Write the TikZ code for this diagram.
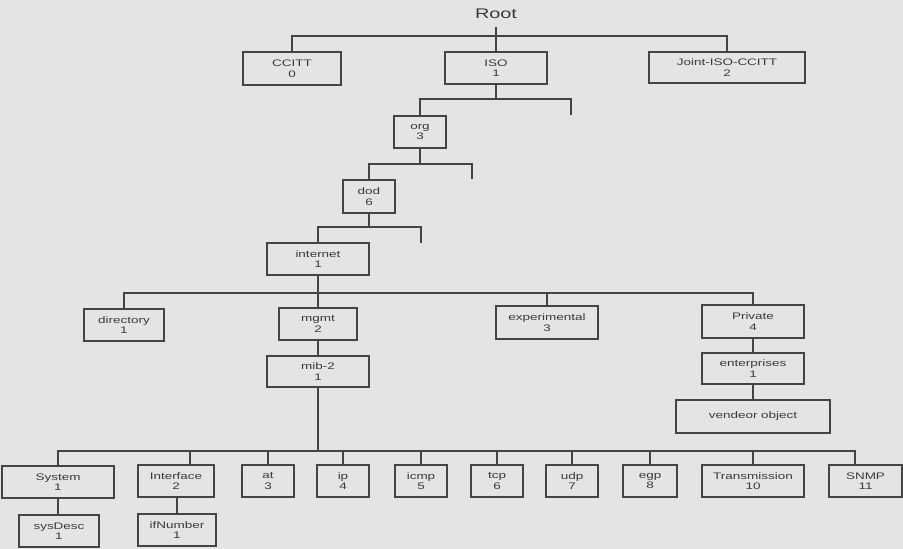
\documentclass[tikz,border=0pt]{standalone}
\usepackage{fontspec}
\setmainfont{Liberation Sans}
\newfontfamily\boxfont{Liberation Sans}[FakeStretch=1.42]
\definecolor{bgcol}{HTML}{E4E4E4}
\definecolor{linecol}{HTML}{444444}
\definecolor{txtcol}{HTML}{3A3A3A}
\begin{document}
\begin{tikzpicture}[x=1pt,y=-1pt,
  box/.style={draw=linecol, line width=1.3pt, rectangle, inner sep=0pt, align=center,
    font=\boxfont\fontsize{9.5}{10.5}\selectfont, text=txtcol},
  conn/.style={draw=linecol, line width=1.3pt}]
\fill[bgcol] (0,0) rectangle (903,549);
\useasboundingbox (0,0) rectangle (903,549);
% top
\node[font=\boxfont\fontsize{14}{15}\selectfont, text=txtcol, inner sep=1pt] (root) at (496,14) {Root};
\node[box, minimum width=98, minimum height=33] (ccitt) at (292,68.5) {CCITT\\0};
\node[box, minimum width=102, minimum height=32] (iso) at (496,68) {ISO\\1};
\node[box, minimum width=156, minimum height=31] (joint) at (727,67.5) {Joint-ISO-CCITT\\2};
\node[box, minimum width=52, minimum height=32] (org) at (420,132) {org\\3};
\node[box, minimum width=52, minimum height=33] (dod) at (369,196.5) {dod\\6};
\node[box, minimum width=102, minimum height=32] (internet) at (318,259) {internet\\1};
% internet children
\node[box, minimum width=80, minimum height=32] (directory) at (124,325) {directory\\1};
\node[box, minimum width=78, minimum height=32] (mgmt) at (318,324) {mgmt\\2};
\node[box, minimum width=102, minimum height=33] (experimental) at (547,322.5) {experimental\\3};
\node[box, minimum width=102, minimum height=33] (private) at (753,321.5) {Private\\4};
\node[box, minimum width=102, minimum height=31] (mib) at (318,371.5) {mib-2\\1};
\node[box, minimum width=102, minimum height=31] (enterprises) at (753,368.5) {enterprises\\1};
\node[box, minimum width=154, minimum height=33] (vendeor) at (753,416.5) {vendeor object};
% mib-2 children
\node[box, minimum width=112, minimum height=32] (system) at (58,482) {System\\1};
\node[box, minimum width=76, minimum height=32] (interface) at (176,481) {Interface\\2};
\node[box, minimum width=52, minimum height=32] (at) at (268,481) {at\\3};
\node[box, minimum width=52, minimum height=32] (ip) at (343,481) {ip\\4};
\node[box, minimum width=52, minimum height=32] (icmp) at (421,481) {icmp\\5};
\node[box, minimum width=52, minimum height=32] (tcp) at (497,481) {tcp\\6};
\node[box, minimum width=52, minimum height=32] (udp) at (572,481) {udp\\7};
\node[box, minimum width=54, minimum height=32] (egp) at (650,481) {egp\\8};
\node[box, minimum width=102, minimum height=32] (transmission) at (753,481) {Transmission\\10};
\node[box, minimum width=73, minimum height=32] (snmp) at (865.5,481) {SNMP\\11};
\node[box, minimum width=80, minimum height=32] (sysdesc) at (59,531) {sysDesc\\1};
\node[box, minimum width=78, minimum height=32] (ifnumber) at (177,530) {ifNumber\\1};
% junction coordinates
\coordinate (r0) at (496,27);
\coordinate (j0) at (496,36);
\coordinate (j1) at (496,99);
\coordinate (e1) at (571,115);
\coordinate (j2) at (420,164);
\coordinate (e2) at (472,179);
\coordinate (j3) at (369,227);
\coordinate (e3) at (421,243);
\coordinate (j4) at (318,293);
\coordinate (j5) at (318,451);
\coordinate (ifin) at (190,465);
\coordinate (snmpin) at (855,465);
\coordinate (ifout) at (177,497);
% connectors
\draw[conn] (r0) -- (iso.north);
\draw[conn] (ccitt.north) |- (j0) -| (joint.north);
\draw[conn] (iso.south) -- (j1);
\draw[conn] (org.north) |- (j1) -| (e1);
\draw[conn] (org.south) -- (j2);
\draw[conn] (dod.north) |- (j2) -| (e2);
\draw[conn] (dod.south) -- (j3);
\draw[conn] (internet.north) |- (j3) -| (e3);
\draw[conn] (internet.south) -- (j4);
\draw[conn] (directory.north) |- (j4) -| (private.north);
\draw[conn] (mgmt.north) -- (j4);
\draw[conn] (experimental.north) |- (j4);
\draw[conn] (mgmt.south) -- (mib.north);
\draw[conn] (private.south) -- (enterprises.north);
\draw[conn] (enterprises.south) -- (vendeor.north);
\draw[conn] (mib.south) -- (j5);
\draw[conn] (system.north) |- (j5) -| (snmpin);
\draw[conn] (ifin) |- (j5);
\draw[conn] (at.north) |- (j5);
\draw[conn] (ip.north) |- (j5);
\draw[conn] (icmp.north) |- (j5);
\draw[conn] (tcp.north) |- (j5);
\draw[conn] (udp.north) |- (j5);
\draw[conn] (egp.north) |- (j5);
\draw[conn] (transmission.north) |- (j5);
\draw[conn] (system.south) -- (sysdesc.north -| system.south);
\draw[conn] (ifout) -- (ifnumber.north);
\end{tikzpicture}
\end{document}
